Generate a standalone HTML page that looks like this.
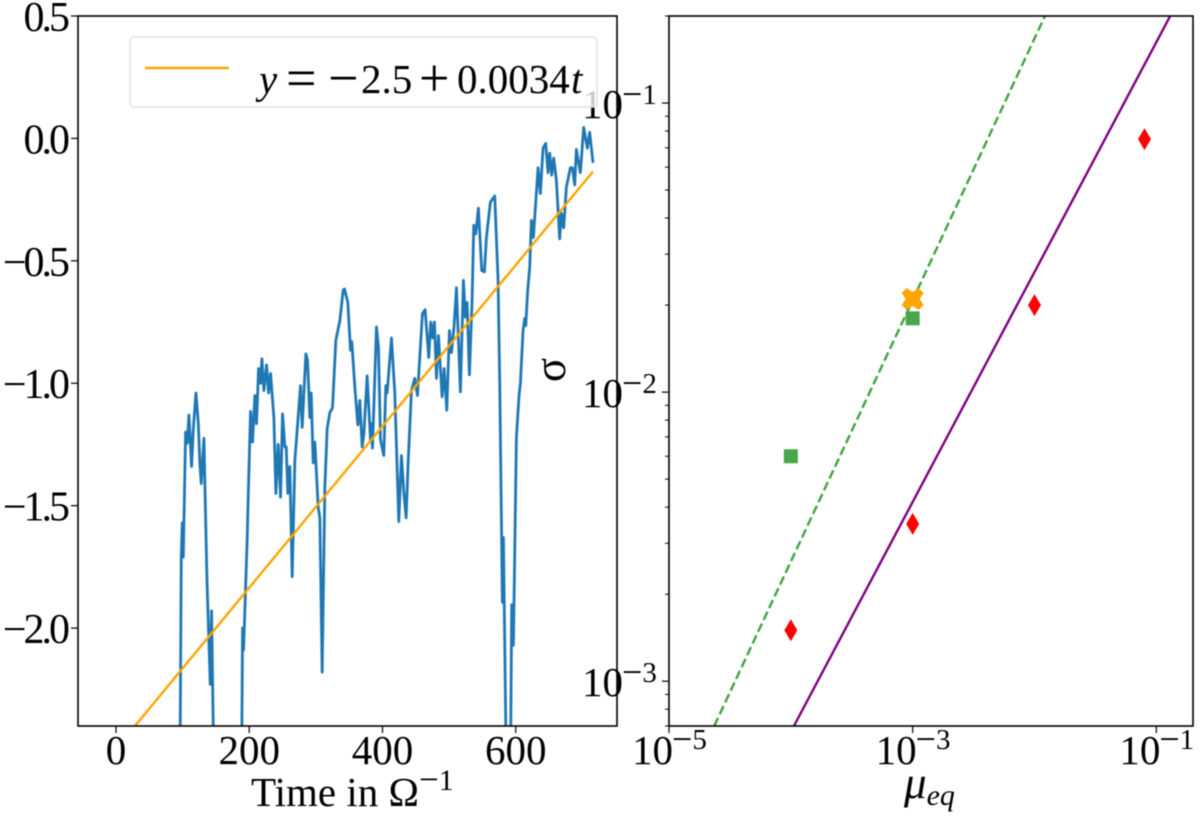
<!DOCTYPE html>
<html lang="en">
<head>
<meta charset="utf-8">
<title>Growth rate and sigma versus mu</title>
<style>
html,body{margin:0;padding:0;background:#fff;}
svg{display:block;filter:blur(0.45px);}
text{font-family:"Liberation Serif",serif;fill:#000;}
</style>
</head>
<body>
<svg id="fig" xmlns="http://www.w3.org/2000/svg" width="1200" height="816" viewBox="0 0 1200 816">
  <defs>
    <clipPath id="clipL"><rect x="78" y="16" width="539" height="710"/></clipPath>
    <clipPath id="clipR"><rect x="669" y="16" width="524" height="710"/></clipPath>
  </defs>
  <g id="left"></g>
  <g id="right"></g>
  <g>
    <rect x="130" y="37" width="467" height="70" rx="4" fill="#fff" fill-opacity="0.8" stroke="#e2e2e2" stroke-width="1.5"/>
    <line x1="145" y1="68" x2="229" y2="68" stroke="#ffa500" stroke-width="2.4"/>
    <text y="93" font-size="41"><tspan x="259" font-style="italic">y</tspan><tspan x="286" font-size="54" dy="3">=</tspan><tspan x="328" font-size="54">−</tspan><tspan x="361" dy="-3">2.5</tspan><tspan x="419" font-size="54" dy="3">+</tspan><tspan x="457" dy="-3">0.0034</tspan><tspan x="571" font-style="italic">t</tspan></text>
  </g>
  <text x="251" y="806" font-size="41">Time in Ω<tspan dy="-15" font-size="35">−</tspan><tspan font-size="30" dy="-1">1</tspan></text>
  <text x="904" y="798" font-size="45" font-style="italic">μ<tspan dy="7" font-size="30">eq</tspan></text>
  <text x="0" y="0" font-size="45" text-anchor="middle" transform="translate(565,370) rotate(-90)">σ</text>
</svg>
<script>
// Left panel data
const timeValues = [96,98,99.5,101,104.5,107,109.5,113.5,116,120,123.5,126,128,132,136,137,141.5,143.5,147,188.5,190,191.5,197,198.5,202,205,208.5,211,214,217,219,222,226,229,232,237,240,243.5,247,250,253.5,255.5,258,261,264.5,268.5,272,277,279.5,285,287.5,291,293,296,298.5,303.5,306,309.5,313.5,317,321,325,330,336,341,343,348,352,354,358.5,363,366,369.5,372,377,382,383,385,391,394,397,402,405,407,413.5,418.5,424.5,428.5,432,435.5,438.5,443.5,448.5,452.5,460,464,469.5,472.5,475.5,478,481,484,489.5,492.5,496.5,500.5,503.5,507.5,511,517,521.5,524.5,527,530.5,534.5,537,540,544,549,553,556,562,568.5,573.5,576,580,581.5,586,592,594,596.5,601,605,607,611,613.5,615,618,621,623.5,626.5,633.5,637,641,645,648.5,651,654,657,661,666,668.5,672,676,682,685,688.5,691,697,702,707.5,711,716];
const seriesValues = [-2.6,-1.71,-1.57,-1.71,-1.2,-1.245,-1.13,-1.34,-1.19,-1.04,-1.16,-1.33,-1.41,-1.225,-1.735,-1.84,-2.23,-1.93,-2.6,-2.6,-2,-2.09,-1.63,-1.46,-1.115,-1.24,-1.05,-1.165,-0.94,-1,-0.9,-1.03,-0.925,-1.04,-0.96,-1.14,-1.45,-1.25,-1.465,-1.125,-1.26,-1.26,-1.45,-1.34,-1.79,-1.315,-1.19,-1.01,-1.18,-0.88,-0.905,-1.14,-1.04,-1.325,-1.24,-1.505,-1.55,-2.18,-1.425,-1.185,-1.12,-1.1,-0.825,-0.745,-0.62,-0.615,-0.67,-0.865,-0.83,-1.015,-1.17,-1.07,-1.26,-1.21,-0.97,-1.23,-1.165,-1.265,-0.77,-0.855,-1.23,-1.295,-1.01,-1.04,-0.815,-1.04,-1.565,-1.295,-1.445,-1.55,-1.325,-1.03,-0.98,-1.05,-0.715,-0.7,-0.895,-0.75,-0.815,-0.75,-0.98,-0.805,-1.055,-0.94,-1.11,-0.785,-0.875,-0.765,-0.61,-1.035,-0.58,-0.73,-0.67,-0.965,-0.66,-0.355,-0.39,-0.285,-0.54,-0.545,-0.405,-0.26,-0.235,-0.58,-1,-1.895,-1.63,-2.6,-2.6,-1.905,-2.07,-1.22,-1.05,-1,-0.785,-0.735,-0.765,-0.62,-0.525,-0.335,-0.405,-0.12,-0.225,-0.04,-0.02,-0.14,-0.06,-0.15,-0.08,-0.17,-0.41,-0.305,-0.365,-0.2,-0.12,-0.12,-0.19,-0.045,-0.14,0.045,-0.04,0.025,-0.1];
const fitTimes = [28.5,716];
const fitValues = [-2.4,-0.135];
const xTicksLeft = [0,200,400,600];
const xTickLabelsLeft = ['0','200','400','600'];
const yTicksLeft = [-2,-1.5,-1,-0.5,0,0.5];
const yTickLabelsLeft = ['−2.0','−1.5','−1.0','−0.5','0.0','0.5'];

// Right panel data
const diamondMu = [1e-4,1e-3,1e-2,0.08];
const diamondSigma = [1.5e-3,3.5e-3,0.02,0.075];
const squareMu = [1e-4,1e-3];
const squareSigma = [6e-3,0.018];
const crossMu = [1e-3];
const crossSigma = [0.021];
const dashedMu = [2.35e-5,0.0122];
const dashedSigma = [7e-4,0.2];
const solidMu = [1.06e-4,0.13];
const solidSigma = [7e-4,0.2];
const xTicksRight = [1e-5,1e-3,1e-1];
const xTickExpRight = ['5','3','1'];
const yTicksRight = [1e-3,1e-2,1e-1];
const yTickExpRight = ['3','2','1'];
const yMinorMultipliers = [2,3,4,5,6,7,8,9];

const NS = 'http://www.w3.org/2000/svg';
const boxL = {l:78,r:617,t:16,b:726};
const boxR = {l:669,r:1193,t:16,b:726};
const limLX = [-57,752];
const limLY = [-2.4,0.5];
const limRX = [1e-5,0.2];
const limRY = [7e-4,0.2];

function xL(v){return boxL.l+(v-limLX[0])/(limLX[1]-limLX[0])*(boxL.r-boxL.l);}
function yL(v){return boxL.b-(v-limLY[0])/(limLY[1]-limLY[0])*(boxL.b-boxL.t);}
function xR(v){return boxR.l+(Math.log10(v)-Math.log10(limRX[0]))/(Math.log10(limRX[1])-Math.log10(limRX[0]))*(boxR.r-boxR.l);}
function yR(v){return boxR.b-(Math.log10(v)-Math.log10(limRY[0]))/(Math.log10(limRY[1])-Math.log10(limRY[0]))*(boxR.b-boxR.t);}

function make(tag,attrs,parent,txt){
  const e=document.createElementNS(NS,tag);
  for(const k in attrs){e.setAttribute(k,attrs[k]);}
  if(txt!==undefined){e.textContent=txt;}
  parent.appendChild(e);
  return e;
}
function pts(a,b,fx,fy){return a.map(function(v,i){return fx(v).toFixed(2)+','+fy(b[i]).toFixed(2);}).join(' ');}
function exponent(parent,xPos,yPos,digit){
  const e=make('text',{x:xPos,y:yPos,'font-size':29},parent);
  make('tspan',{'font-size':36,dy:2},e,'−');
  make('tspan',{'font-size':29,dy:-2},e,digit);
  return e;
}

const left=document.getElementById('left');
const right=document.getElementById('right');

// LEFT PANEL
const blue=make('polyline',{points:pts(timeValues,seriesValues,xL,yL),fill:'none',stroke:'#1f77b4','stroke-width':2.8,'stroke-linejoin':'round','clip-path':'url(#clipL)'},left);


const fit=make('polyline',{points:pts(fitTimes,fitValues,xL,yL),fill:'none',stroke:'#ffa500','stroke-width':2.4,'clip-path':'url(#clipL)'},left);


const frameL=make('rect',{x:boxL.l,y:boxL.t,width:boxL.r-boxL.l,height:boxL.b-boxL.t,fill:'none',stroke:'#000','stroke-width':1.6},left);



xTicksLeft.forEach(function(v,i){
  const t=make('line',{x1:xL(v),x2:xL(v),y1:boxL.b,y2:boxL.b+7,stroke:'#000','stroke-width':1.2},left);
  
  
  const l=make('text',{x:xL(v),y:764,'font-size':41,'text-anchor':'middle'},left,xTickLabelsLeft[i]);
  
  
});
yTicksLeft.forEach(function(v,i){
  const t=make('line',{x1:boxL.l-7,x2:boxL.l,y1:yL(v),y2:yL(v),stroke:'#000','stroke-width':1.2},left);
  
  
  const l=make('text',{x:boxL.l-11,y:yL(v)+15,'font-size':42,'letter-spacing':-3,'text-anchor':'end'},left,yTickLabelsLeft[i]);
  
  
});

// RIGHT PANEL
const solid=make('polyline',{points:pts(solidMu,solidSigma,xR,yR),fill:'none',stroke:'#800080','stroke-width':2.4,'clip-path':'url(#clipR)'},right);


const dashed=make('polyline',{points:pts(dashedMu,dashedSigma,xR,yR),fill:'none',stroke:'#3fa33f','stroke-width':2.4,'stroke-dasharray':'9 4','clip-path':'url(#clipR)'},right);



squareMu.forEach(function(v,i){
  const s=make('rect',{x:xR(v)-7,y:yR(squareSigma[i])-7,width:14,height:14,fill:'#4aa64a'},right);
  
  
});
diamondMu.forEach(function(v,i){
  const cx=xR(v),cy=yR(diamondSigma[i]);
  const d=make('polygon',{points:[cx,cy-11,cx+6.5,cy,cx,cy+11,cx-6.5,cy].join(' '),fill:'#ff0000'},right);
  
  
});
crossMu.forEach(function(v,i){
  const c=make('path',{d:'M-6 -11 L0 -7 L6 -11 L11 -6 L7 0 L11 6 L6 11 L0 7 L-6 11 L-11 6 L-7 0 L-11 -6 Z',fill:'#ffa500',transform:'translate('+xR(v)+','+yR(crossSigma[i])+')'},right);
  
  
});

const frameR=make('rect',{x:boxR.l,y:boxR.t,width:boxR.r-boxR.l,height:boxR.b-boxR.t,fill:'none',stroke:'#000','stroke-width':1.6},right);



xTicksRight.forEach(function(v,i){
  const t=make('line',{x1:xR(v),x2:xR(v),y1:boxR.b,y2:boxR.b+7,stroke:'#000','stroke-width':1.2},right);
  
  
  const l=make('text',{x:xR(v)-37,y:764,'font-size':41},right,'10');
  
  
  const e=exponent(right,xR(v)+3,749,xTickExpRight[i]);
  
  
});
yTicksRight.forEach(function(v,i){
  const t=make('line',{x1:boxR.l-7,x2:boxR.l,y1:yR(v),y2:yR(v),stroke:'#000','stroke-width':1.2},right);
  
  
  const l=make('text',{x:582,y:yR(v)+15,'font-size':41},right,'10');
  
  
  const e=exponent(right,622,yR(v)+1,yTickExpRight[i]);
  
  
});
[1e-4,1e-3,1e-2,1e-1].forEach(function(decade){
  yMinorMultipliers.forEach(function(m){
    const val=decade*m;
    if(val<limRY[0]||val>limRY[1]){return;}
    const t=make('line',{x1:boxR.l-4,x2:boxR.l,y1:yR(val),y2:yR(val),stroke:'#000','stroke-width':1},right);
    
    
  });
});
</script>
</body>
</html>
